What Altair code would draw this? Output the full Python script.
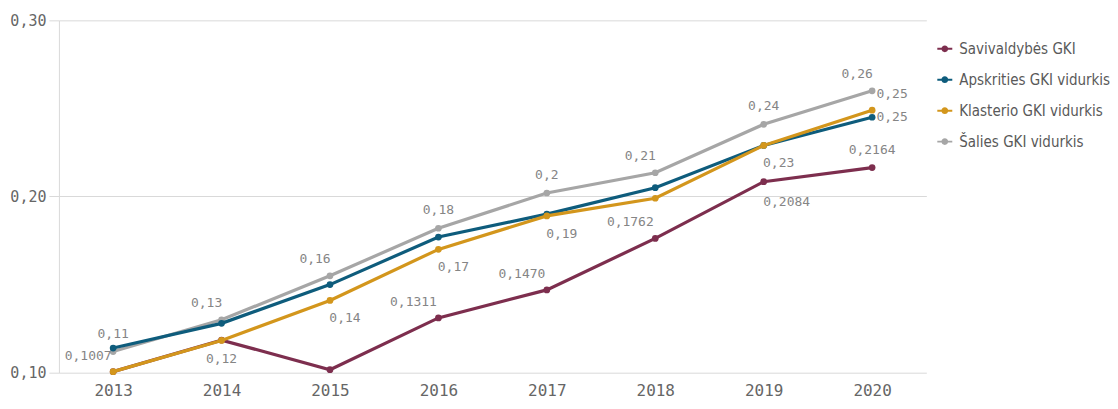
import altair as alt
import pandas as pd

YEARS = [2013, 2014, 2015, 2016, 2017, 2018, 2019, 2020]
SERIES = ["Savivaldybės GKI", "Apskrities GKI vidurkis", "Klasterio GKI vidurkis", "Šalies GKI vidurkis"]
COLORS = ["#7d2e4e", "#0e5c7c", "#d3961c", "#a6a6a6"]

SAV = [0.1006, 0.1185, 0.1017, 0.1311, 0.1470, 0.1762, 0.2084, 0.2164]
APS = [0.114, 0.128, 0.150, 0.177, 0.190, 0.205, 0.229, 0.245]
KLA = [0.1006, 0.1183, 0.141, 0.170, 0.189, 0.199, 0.229, 0.249]
SAL = [0.112, 0.130, 0.155, 0.182, 0.202, 0.2135, 0.241, 0.260]

SAV_LABELS = ["0,1007", "", "", "0,1311", "0,1470", "0,1762", "0,2084", "0,2164"]
APS_LABELS = ["", "", "", "", "", "", "", "0,25"]
KLA_LABELS = ["", "0,12", "0,14", "0,17", "0,19", "", "0,23", "0,25"]
SAL_LABELS = ["0,11", "0,13", "0,16", "0,18", "0,2", "0,21", "0,24", "0,26"]

VALUES = {SERIES[0]: SAV, SERIES[1]: APS, SERIES[2]: KLA, SERIES[3]: SAL}
LABELS = {SERIES[0]: SAV_LABELS, SERIES[1]: APS_LABELS, SERIES[2]: KLA_LABELS, SERIES[3]: SAL_LABELS}

# label placement (layout, kept apart from the data)
PLACE = {
    SERIES[0]: ["NWW", "", "", "NWW", "NWW", "NWW", "SEE", "N"],
    SERIES[1]: ["", "", "", "", "", "", "", "E"],
    SERIES[2]: ["", "S", "SE", "SE", "SE", "", "SE", "NE"],
    SERIES[3]: ["N", "NW", "NW", "N", "N", "NW", "N", "NW"],
}
OFFSETS = {
    "N": (0, -18), "NW": (-15, -17), "NWW": (-25, -16), "S": (0, 19),
    "SE": (15, 18), "SEE": (23, 20), "NE": (20, -16), "E": (20, 0),
}

rows = []
for s in SERIES:
    for i, y in enumerate(YEARS):
        rows.append({"series": s, "year": y, "value": VALUES[s][i],
                     "label": LABELS[s][i], "place": PLACE[s][i]})
df = pd.DataFrame(rows)

MONO = "DejaVu Sans Mono"
NARROW = "'DejaVu Sans Condensed', 'Liberation Sans Narrow', sans-serif"
GRID = "#d9d9d9"
AXIS_TXT = "#666666"

x_enc = alt.X("year:O", scale=alt.Scale(type="point", padding=0.5),
              axis=alt.Axis(title=None, labelAngle=0, ticks=False, domain=False, grid=False,
                            labelFont=MONO, labelFontSize=16, labelColor=AXIS_TXT, labelPadding=10))
y_enc = alt.Y("value:Q", scale=alt.Scale(domain=[0.10, 0.30], nice=False, zero=False),
              axis=alt.Axis(title=None, values=[0.1, 0.2, 0.3],
                            labelExpr="replace(format(datum.value, '.2f'), '.', ',')",
                            labelFont=MONO, labelFontSize=15, labelColor=AXIS_TXT,
                            tickSize=10, tickColor=GRID, domainColor=GRID, gridColor=GRID,
                            labelPadding=3))

SYMBOL = ("M-1,-0.13 L1,-0.13 L1,0.13 L-1,0.13 Z "
          "M0,-0.45 A0.45,0.45 0 1,1 0,0.45 A0.45,0.45 0 1,1 0,-0.45 Z")
legend = alt.Legend(title=None, orient="none", legendX=880, legendY=21,
                    symbolType=SYMBOL, symbolSize=225, symbolStrokeWidth=0, symbolOpacity=1,
                    labelFont=NARROW, labelFontSize=15, labelColor="#595959",
                    labelOffset=7, rowPadding=15, padding=0, labelLimit=200)
color_scale = alt.Scale(domain=SERIES, range=COLORS)

base = alt.Chart(df)
layers = []
draw_order = [SERIES[0], SERIES[3], SERIES[1], SERIES[2]]
for s in draw_order:
    c = COLORS[SERIES.index(s)]
    sub = base.transform_filter(alt.datum.series == s)
    layers.append(sub.mark_line(strokeWidth=3.2).encode(x=x_enc, y=y_enc, stroke=alt.value(c)))
    layers.append(sub.mark_point(filled=True, size=45, opacity=1).encode(
        x=x_enc, y=y_enc, color=alt.Color("series:N", scale=color_scale, legend=legend)))

for key, (dx, dy) in OFFSETS.items():
    layers.append(base.transform_filter(alt.datum.place == key).mark_text(
        font=MONO, fontSize=13, color="#858585", dx=dx, dy=dy, align="center", baseline="middle"
    ).encode(x=x_enc, y=y_enc, text="label:N"))

chart = alt.layer(*layers).properties(
    width=869, height=353,
    autosize=alt.AutoSizeParams(type="none"),
    padding={"left": 51, "top": 12, "right": 184, "bottom": 28},
).configure_view(stroke=None)

chart.save("out.html", embed_options={"renderer": "svg", "actions": False})
